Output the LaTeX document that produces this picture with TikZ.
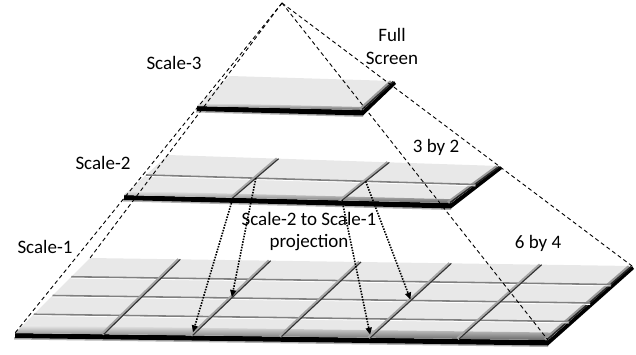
\documentclass[tikz,border=0pt]{standalone}
\usepackage{fontspec}
\setmainfont{Carlito}
\usetikzlibrary{calc,arrows.meta}
\tikzset{
  topface/.style={fill=black!9},
  rowline/.style={draw=black!50,line width=1.6pt},
  rowhi/.style={draw=white,line width=0.8pt},
  colshade/.style={draw=black!35,line width=3pt},
  colline/.style={draw=black!80,line width=1.1pt},
  pyr/.style={draw=black,line width=0.9pt,dash pattern=on 4pt off 3pt},
  proj/.style={draw=black,line width=1.6pt,dash pattern=on 1.5pt off 1.3pt,
    -{Triangle[length=7pt,width=6pt]},shorten >=1pt},
  lbl/.style={font=\fontsize{19}{22}\selectfont,inner sep=0pt,align=center},
}
% #1 prefix, #2 number of columns, #3 list of column fractions, #4 list of row fractions
\newcommand\drawplane[4]{%
  \fill[black!30] ($(#1FL)+(-1,4)$) -- ($(#1FR)+(0,5)$) -- ($(#1FR)+(0,7)$) -- ($(#1FL)+(-1,6.5)$) -- cycle;
  \fill[black] (#1FL) -- (#1FR) -- (#1BR) -- ($(#1BR)+(2,3)$) -- ($(#1FR)+(0,5.5)$) -- ($(#1FL)+(0,5)$) -- cycle;
  \fill[topface] (#1BL) -- (#1BR) -- (#1FR) -- (#1FL) -- cycle;
  \shade[top color=black!9,bottom color=black!60] ($(#1FL)!0.1!(#1BL)$) -- ($(#1FR)!0.1!(#1BR)$) -- (#1FR) -- (#1FL) -- cycle;
  \draw[black!40,line width=3pt] ($(#1BR)+(-3,0.5)$) -- ($(#1FR)+(-3,-0.5)$);
  \draw[black!85,line width=1.5pt] ($(#1BR)+(-0.8,0.5)$) -- ($(#1FR)+(-0.8,-0.5)$);
  \foreach \v in {#4} {
    \draw[rowline] ($(#1BL)!\v!(#1FL)$) -- ($(#1BR)!\v!(#1FR)$);
    \draw[rowhi] ($($(#1BL)!\v!(#1FL)$)+(0,1.4)$) -- ($($(#1BR)!\v!(#1FR)$)+(0,1.4)$);
  }
  \foreach \u in {#3} {
    \draw[colshade] ($($(#1BL)!\u!(#1BR)$)+(-1.6,0)$) -- ($($(#1FL)!\u!(#1FR)$)+(-1.6,0)$);
    \draw[colline] ($(#1BL)!\u!(#1BR)$) -- ($(#1FL)!\u!(#1FR)$);
  }
}
\begin{document}
\begin{tikzpicture}[x=1pt,y=-1pt]
\useasboundingbox (0,0) rectangle (636,354);
% corners
\coordinate (apex) at (282,3);
\coordinate (aBL) at (90,258);  \coordinate (aBR) at (632,266);
\coordinate (aFR) at (548,340); \coordinate (aFL) at (15,333);
\coordinate (bBL) at (168,155); \coordinate (bBR) at (500,166);
\coordinate (bFR) at (451,203); \coordinate (bFL) at (124,195);
\coordinate (cBL) at (230,76);  \coordinate (cBR) at (394,81);
\coordinate (cFR) at (363,110); \coordinate (cFL) at (197,106);

\drawplane{a}{6}{0.16667,0.33333,0.5,0.66667,0.83333}{0.25,0.5,0.75}
\drawplane{b}{3}{0.33333,0.66667}{0.5}
\drawplane{c}{1}{}{}

% grid points used by the projection arrows
\coordinate (b11) at ($ ($(bBL)!0.33333!(bBR)$) ! 0.5 ! ($(bFL)!0.33333!(bFR)$) $);
\coordinate (b12) at ($(bFL)!0.33333!(bFR)$);
\coordinate (b21) at ($ ($(bBL)!0.66667!(bBR)$) ! 0.5 ! ($(bFL)!0.66667!(bFR)$) $);
\coordinate (b22) at ($(bFL)!0.66667!(bFR)$);
\coordinate (a22) at ($ ($(aBL)!0.33333!(aBR)$) ! 0.5 ! ($(aFL)!0.33333!(aFR)$) $);
\coordinate (a24) at ($(aFL)!0.33333!(aFR)+(0,-2)$);
\coordinate (a42) at ($ ($(aBL)!0.66667!(aBR)$) ! 0.5 ! ($(aFL)!0.66667!(aFR)$) $);
\coordinate (a44) at ($(aFL)!0.66667!(aFR)+(0,-2)$);

% pyramid edges
\draw[pyr] (apex) -- (aFL);
\draw[pyr] (apex) -- (aBL);
\draw[pyr] (apex) -- (aBR);
\draw[pyr] (apex) -- (aFR);

% projection arrows
\draw[proj] (b12) -- (a24);
\draw[proj] (b11) -- (a22);
\draw[proj] (b22) -- (a44);
\draw[proj] (b21) -- (a42);

% labels
\node[lbl] (full) at (392,46) {Full\\[1pt]Screen};
\node[lbl] (s3) at (174,63) {Scale-3};
\node[lbl] (s2) at (103,163) {Scale-2};
\node[lbl] (s1) at (45,247) {Scale-1};
\node[lbl] (t32) at (436,147) {3 by 2};
\node[lbl] (t64) at (538,243) {6 by 4};
\node[lbl] (pj) at (309,232) {Scale-2 to Scale-1\\projection};
\end{tikzpicture}
\end{document}
